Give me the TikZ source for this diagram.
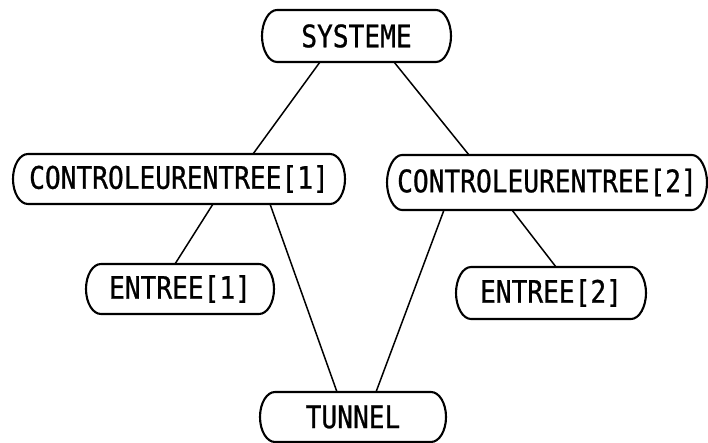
\documentclass[tikz,border=0pt]{standalone}
\usepackage{fontspec}
\newfontfamily\twfont{DejaVu Sans Mono}[FakeStretch=0.845,FakeBold=0.8]
\newcommand\capsule[1]{%
  \draw[boxline] ([xshift=15pt]#1.north west) -- ([xshift=-15pt]#1.north east)
    .. controls ([xshift=-6.7pt]#1.north east) and ([yshift=13.8pt]#1.east) .. (#1.east)
    .. controls ([yshift=-13.8pt]#1.east) and ([xshift=-6.7pt]#1.south east) .. ([xshift=-15pt]#1.south east)
    -- ([xshift=15pt]#1.south west)
    .. controls ([xshift=6.7pt]#1.south west) and ([yshift=-13.8pt]#1.west) .. (#1.west)
    .. controls ([yshift=13.8pt]#1.west) and ([xshift=6.7pt]#1.north west) .. ([xshift=15pt]#1.north west)
    -- cycle;}
\begin{document}
\begin{tikzpicture}[x=1pt,y=-1pt,
  box/.style={draw=none,inner sep=0pt,outer sep=0pt,minimum height=50pt,
    font=\twfont\fontsize{31}{31}\selectfont},
  boxline/.style={line width=2.1pt,line join=round},
  link/.style={line width=1.5pt,line cap=round}]
\useasboundingbox[fill=white] (0,0) rectangle (708,443);
\node[box,minimum width=189pt,minimum height=52pt] (sys) at (356.5,36) {SYSTEME};
\node[box,minimum width=332pt] (c1) at (179,179) {CONTROLEURENTREE[1]};
\node[box,minimum width=320pt,minimum height=55pt] (c2) at (547,182.5) {CONTROLEURENTREE[2]};
\node[box,minimum width=188pt] (e1) at (180,289) {ENTREE[1]};
\node[box,minimum width=190pt,minimum height=52pt] (e2) at (551,293) {ENTREE[2]};
\node[box,minimum width=186pt] (tun) at (353,417) {TUNNEL};
\capsule{sys}
\capsule{c1}
\capsule{c2}
\capsule{e1}
\capsule{e2}
\capsule{tun}
\draw[link] ([xshift=-36.5pt]sys.south) -- ([xshift=74pt]c1.north);
\draw[link] ([xshift=37.5pt]sys.south) -- ([xshift=-78pt]c2.north);
\draw[link] ([xshift=34pt]c1.south) -- ([xshift=-5pt]e1.north);
\draw[link] ([xshift=91pt]c1.south) -- ([xshift=-16pt]tun.north);
\draw[link] ([xshift=-103pt]c2.south) -- ([xshift=23pt]tun.north);
\draw[link] ([xshift=-35pt]c2.south) -- ([xshift=5pt]e2.north);
\end{tikzpicture}
\end{document}
